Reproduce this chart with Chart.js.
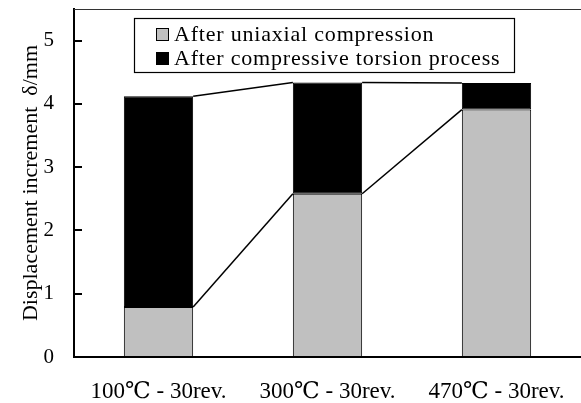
<!DOCTYPE html>
<html lang="en">
<head>
<meta charset="UTF-8" />
<title>Displacement increment</title>
<script src="https://cdn.jsdelivr.net/npm/chart.js"></script>
<style>
  body {margin:0;background:#fff;}
  #wrap {width:581px;height:403px;}
</style>
</head>
<body>
<div id="wrap"><canvas id="chart" width="581" height="403"></canvas></div>
<script>
// data
const categories = ['100\u2103 - 30rev.', '300\u2103 - 30rev.', '470\u2103 - 30rev.'];
const seriesNames = ['After uniaxial compression', 'After compressive torsion process'];
const uniaxial = [0.79, 2.58, 3.91];
const torsion = [3.33, 1.76, 0.42];
const yTicks = [0, 1, 2, 3, 4, 5];

const FONT = '"Liberation Serif", "Times New Roman", "DejaVu Serif", serif';

// lines joining the tops of the same segment in neighbouring bars
const seriesLines = {
  id: 'seriesLines',
  afterDatasetsDraw(chart) {
    const ctx = chart.ctx;
    ctx.save();
    ctx.strokeStyle = '#000';
    ctx.lineWidth = 1.5;
    chart.data.datasets.forEach((ds, di) => {
      const bars = chart.getDatasetMeta(di).data;
      for (let i = 0; i < bars.length - 1; i++) {
        const a = bars[i], b = bars[i + 1];
        ctx.beginPath();
        ctx.moveTo(a.x + a.width / 2, a.y);
        ctx.lineTo(b.x - b.width / 2, b.y);
        ctx.stroke();
      }
    });
    ctx.restore();
  }
};

// inward ticks on the y axis, top frame line, boxed legend
const frame = {
  id: 'frame',
  afterDraw(chart) {
    const ctx = chart.ctx, area = chart.chartArea, yScale = chart.scales.y;
    ctx.save();
    ctx.fillStyle = '#000';
    for (const v of yTicks) {
      const py = Math.round(yScale.getPixelForValue(v));
      ctx.fillRect(area.left - 1, py - 1, 9, 2);
    }
    ctx.strokeStyle = '#333';
    ctx.lineWidth = 1;
    ctx.beginPath();
    ctx.moveTo(area.left, area.top + 0.5);
    ctx.lineTo(area.right, area.top + 0.5);
    ctx.stroke();

    // legend
    ctx.fillStyle = '#fff';
    ctx.fillRect(134, 18, 380, 54);
    ctx.strokeStyle = '#000';
    ctx.lineWidth = 1.2;
    ctx.strokeRect(134.5, 18.5, 380, 54);
    const rows = [28.5, 52.5];
    chart.data.datasets.forEach((ds, i) => {
      ctx.fillStyle = ds.backgroundColor;
      ctx.fillRect(156.5, rows[i], 12, 12);
      ctx.strokeStyle = '#000';
      ctx.lineWidth = 1;
      ctx.strokeRect(156.5, rows[i], 12, 12);
      ctx.fillStyle = '#000';
      ctx.font = '22px ' + FONT;
      ctx.letterSpacing = '0.8px';
      ctx.textBaseline = 'alphabetic';
      ctx.fillText(ds.label, 174, rows[i] + 12);
    });
    ctx.restore();
  }
};

new Chart(document.getElementById('chart'), {
  type: 'bar',
  data: {
    labels: categories,
    datasets: [
      {label: seriesNames[0], data: uniaxial, backgroundColor: '#c0c0c0', borderColor: '#000', borderWidth: 1, borderSkipped: false},
      {label: seriesNames[1], data: torsion, backgroundColor: '#000', borderColor: '#000', borderWidth: 1, borderSkipped: false}
    ]
  },
  options: {
    responsive: false,
    animation: false,
    layout: {padding: {top: 9, right: 0, left: 0, bottom: 0}},
    datasets: {bar: {categoryPercentage: 1, barPercentage: 0.41}},
    plugins: {legend: {display: false}, tooltip: {enabled: false}},
    scales: {
      x: {
        stacked: true,
        grid: {display: false},
        border: {display: true, color: '#000', width: 2},
        ticks: {color: '#000', font: {family: FONT, size: 23}, padding: 13, maxRotation: 0},
        afterFit(s) { s.height = 46; s.paddingLeft = 0; s.paddingRight = 0; }
      },
      y: {
        stacked: true,
        min: 0, max: 5.5,
        grid: {display: false},
        border: {display: true, color: '#000', width: 2},
        ticks: {stepSize: 1, includeBounds: false, color: '#000', font: {family: FONT, size: 21}, padding: 12},
        title: {display: true, text: 'Displacement increment  \u03b4/mm', color: '#000', font: {family: FONT, size: 22}, padding: {top: 18, bottom: 0}},
        afterFit(s) { s.width = 74; s.paddingTop = 0; s.paddingBottom = 0; }
      }
    }
  },
  plugins: [seriesLines, frame]
});
</script>
</body>
</html>
